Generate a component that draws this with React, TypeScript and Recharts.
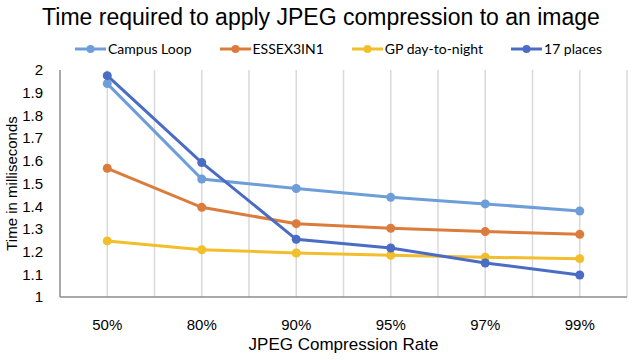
import React from "react";
import { LineChart, Line, XAxis, YAxis, CartesianGrid } from "recharts";

const categories = ["50%", "80%", "90%", "95%", "97%", "99%"];
const campusLoop = [1.94, 1.52, 1.478, 1.439, 1.41, 1.379];
const essex3in1 = [1.567, 1.395, 1.323, 1.303, 1.288, 1.276];
const gpDayToNight = [1.247, 1.208, 1.194, 1.184, 1.175, 1.169];
const places17 = [1.975, 1.592, 1.254, 1.216, 1.15, 1.097];
const yTicks = [1, 1.1, 1.2, 1.3, 1.4, 1.5, 1.6, 1.7, 1.8, 1.9, 2];

const seriesDefs = [
  { key: "campus", name: "Campus Loop", color: "#6d9ed9", values: campusLoop },
  { key: "essex", name: "ESSEX3IN1", color: "#dc7c3c", values: essex3in1 },
  { key: "gp", name: "GP day-to-night", color: "#f2be2c", values: gpDayToNight },
  { key: "p17", name: "17 places", color: "#4b6cc5", values: places17 },
];

const data = categories.map((c, i) => {
  const row: any = { cat: c };
  seriesDefs.forEach((s) => (row[s.key] = s.values[i]));
  return row;
});

const font = "'Liberation Sans', Arial, Helvetica, sans-serif";

const LegendBlock = () => (
  <div style={{ position: "absolute", left: 0, top: 40, width: 635, display: "flex", alignItems: "center", paddingLeft: 75, fontFamily: "Lato, 'Liberation Sans', sans-serif", fontSize: 14, color: "#000", boxSizing: "border-box" }}>
    {seriesDefs.map((s) => (
      <div key={s.key} style={{ display: "flex", alignItems: "center", marginRight: 28 }}>
        <svg width={31} height={10} style={{ marginRight: 2 }}>
          <line x1={0} y1={5} x2={31} y2={5} stroke={s.color} strokeWidth={3} />
          <circle cx={15.5} cy={5} r={4} fill={s.color} />
        </svg>
        <span>{s.name}</span>
      </div>
    ))}
  </div>
);

const gridGen = ({ offset }: any) => {
  const pts: number[] = [];
  for (let i = 1; i <= categories.length * 2; i++) {
    pts.push(offset.left + (i * offset.width) / (categories.length * 2));
  }
  return pts;
};

export default function App() {
  return (
    <div style={{ position: "absolute", left: 0, top: 0, width: 635, height: 360, background: "#fff" }}>
      <div style={{ position: "absolute", left: 0, top: 4, width: 642, textAlign: "center", fontFamily: font, fontSize: 23, color: "#000" }}>
        Time required to apply JPEG compression to an image
      </div>
      <LegendBlock />
      <div style={{ position: "absolute", left: 0, top: 0 }}>
        <LineChart width={635} height={360} data={data} margin={{ top: 70, right: 8, bottom: 0, left: 0 }}>
          <CartesianGrid horizontal={false} vertical={true} stroke="#d9d9d9" strokeWidth={1.5} verticalCoordinatesGenerator={gridGen} />
          <XAxis
            dataKey="cat"
            scale="band"
            height={63}
            tickLine={false}
            axisLine={{ stroke: "#8c8c8c", strokeWidth: 1.5 }}
            tick={{ fill: "#000", fontSize: 15, fontFamily: font }}
            tickMargin={16}
            label={{ value: "JPEG Compression Rate", position: "insideBottom", offset: 10, fill: "#000", fontSize: 17, fontFamily: font }}
          />
          <YAxis
            width={60}
            domain={[1, 2]}
            ticks={yTicks}
            interval={0}
            tickLine={false}
            axisLine={{ stroke: "#8c8c8c", strokeWidth: 1.5 }}
            tick={{ fill: "#000", fontSize: 15, fontFamily: font }}
            tickMargin={11}
            label={{ value: "Time in milliseconds", angle: -90, position: "insideLeft", offset: 12, fill: "#000", fontSize: 15, fontFamily: font, style: { textAnchor: "middle" } }}
          />
          {seriesDefs.map((s) => (
            <Line
              key={s.key}
              dataKey={s.key}
              name={s.name}
              stroke={s.color}
              strokeWidth={3}
              dot={{ r: 4.5, fill: s.color, stroke: s.color, strokeWidth: 0 }}
              activeDot={false}
              isAnimationActive={false}
            />
          ))}
        </LineChart>
      </div>
    </div>
  );
}
